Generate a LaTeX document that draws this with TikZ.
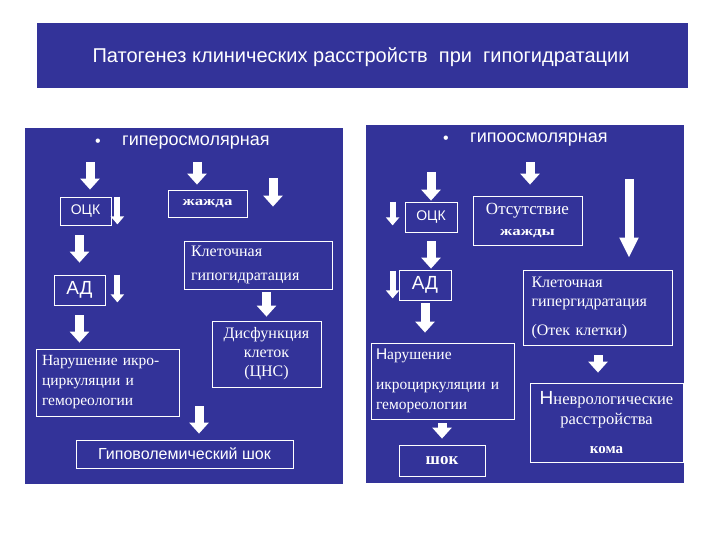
\documentclass[tikz,border=0pt]{standalone}
\usepackage{fontspec}
\setmainfont{Liberation Serif}
\setsansfont{Liberation Sans}
\usepackage{tikz}
\usetikzlibrary{arrows.meta}
\definecolor{slideblue}{RGB}{51,51,153}
\tikzset{
  panel/.style={
    fill=slideblue,
    draw=none,
    inner sep=0pt
  },
  slidebox/.style={
    draw=white,
    line width=0.8pt,
    text=white,
    inner sep=0pt,
    align=center
  },
  sansbox/.style={
    slidebox,
    font=\sffamily\fontsize{14}{17}\selectfont
  },
  serifbox/.style={
    slidebox,
    font=\rmfamily\fontsize{16}{20}\selectfont
  },
  heading/.style={
    text=white,
    inner sep=0pt,
    font=\sffamily\fontsize{18}{20}\selectfont
  },
  blockflow/.style={draw=white,line width=9pt,-{Triangle[length=11pt,width=19pt]}},
  sideflow/.style={draw=white,line width=6pt,-{Triangle[length=8pt,width=13pt]}}
}
\begin{document}
\begin{tikzpicture}[x=1pt,y=-1pt]
\useasboundingbox (0,0) rectangle (720,540);
\node[panel,minimum width=651pt,minimum height=65pt] (titlebar) at (362.5,55.5) {};
\node[heading,font=\sffamily\fontsize{20}{22}\selectfont] (title) at (361,57) {Патогенез клинических расстройств\ \ при\ \ гипогидратации};
\node[panel,minimum width=318pt,minimum height=356pt] (hyperpanel) at (184,306) {};
\node[panel,minimum width=318pt,minimum height=358pt] (hypopanel) at (525,304) {};
\node[heading,font=\sffamily\fontsize{16}{18}\selectfont] (hyperdot) at (98,143) {•};
\node[heading,anchor=west] (hyper) at (122,143) {гиперосмолярная};
\node[heading,font=\sffamily\fontsize{16}{18}\selectfont] (hypodot) at (446,140) {•};
\node[heading,anchor=west] (hypo) at (470,140) {гипоосмолярная};
\node[sansbox,minimum width=51pt,minimum height=28pt] (ock1) at (85.5,211) {ОЦК};
\node[serifbox,font=\rmfamily\bfseries\fontsize{13}{16}\selectfont,minimum width=79pt,minimum height=27pt] (thirst) at (207.5,203.5) {\scalebox{1.3}[1]{жажда}};
\node[sansbox,font=\sffamily\fontsize{19}{22}\selectfont,minimum width=51pt,minimum height=30pt] (ad1) at (79.5,290) {АД};
\node[serifbox,align=left,text width=134pt,inner xsep=7pt,minimum height=48pt,font=\rmfamily\fontsize{16}{24}\selectfont] (cellhypo) at (258,265) {Клеточная\\гипогидратация};
\node[serifbox,align=left,text width=131pt,inner xsep=6pt,minimum height=67pt,font=\rmfamily\fontsize{15.5}{20}\selectfont] (micro1) at (107.5,382.5) {Нарушение икро-\\циркуляции и\\гемореологии};
\node[serifbox,minimum width=109pt,minimum height=66pt,font=\rmfamily\fontsize{16}{19}\selectfont] (cns) at (266.5,354) {Дисфункция\\клеток\\(ЦНС)};
\node[sansbox,font=\sffamily\fontsize{16}{19}\selectfont,minimum width=217pt,minimum height=28pt] (shock1) at (184.5,454) {Гиповолемический шок};
\node[sansbox,minimum width=52pt,minimum height=30pt] (ock2) at (431,217) {ОЦК};
\node[serifbox,minimum width=109pt,minimum height=49pt,font=\rmfamily\fontsize{17}{21}\selectfont] (nothirst) at (527.5,220.5) {Отсутствие\\{\bfseries\fontsize{13}{21}\selectfont\scalebox{1.3}[1]{жажды}}};
\node[sansbox,font=\sffamily\fontsize{19}{22}\selectfont,minimum width=52pt,minimum height=30pt] (ad2) at (425,285) {АД};
\node[serifbox,align=left,text width=133pt,inner xsep=8pt,minimum height=75pt,font=\rmfamily\fontsize{16}{19}\selectfont] (cellhyper) at (598,307.5) {Клеточная\\гипергидратация\\[10pt](Отек клетки)};
\node[serifbox,align=left,text width=133pt,inner xsep=5pt,minimum height=76pt,font=\rmfamily\fontsize{15.5}{20}\selectfont] (micro2) at (442.5,381) {{\sffamily Н}арушение\\[10pt]икроциркуляции и\\гемореологии};
\node[serifbox,minimum width=153pt,minimum height=79pt,font=\rmfamily\fontsize{16.5}{20}\selectfont] (neuro) at (606.5,422.5) {{\sffamily\fontsize{19}{20}\selectfont Н}неврологические\\расстройства\\[9pt]{\bfseries\fontsize{15}{20}\selectfont кома}};
\node[serifbox,font=\rmfamily\bfseries\fontsize{17}{19}\selectfont,minimum width=86pt,minimum height=31pt] (shock2) at (442,460.5) {шок};
\coordinate (a1) at (90,162);
\coordinate (a2) at (197,162);
\coordinate (a3) at (273,178);
\coordinate (a7) at (199,406);
\coordinate (b1) at (431,172);
\coordinate (b2) at (530,162);
\coordinate (b3) at (629,179);
\draw[blockflow,shorten >=7pt] (a1) -- (a1 |- ock1.north);
\draw[blockflow,shorten >=5pt] (a2) -- (a2 |- thirst.north);
\draw[blockflow,shorten >=34pt] (a3) -- (a3 |- cellhypo.north);
\draw[sideflow,shorten >=1pt] ([xshift=6pt]ock1.north east) -- ([xshift=6pt]ock1.south east);
\draw[blockflow,shorten <=10pt,shorten >=12pt] (ad1.north |- ock1.south) -- (ad1.north);
\draw[sideflow,shorten >=3pt] ([xshift=12pt]ad1.north east) -- ([xshift=12pt]ad1.south east);
\draw[blockflow,shorten <=3pt,shorten >=4pt] (cns.north |- cellhypo.south) -- (cns.north);
\draw[blockflow,shorten <=10pt,shorten >=6pt] (ad1.south) -- (ad1.south |- micro1.north);
\draw[blockflow,shorten >=6pt] (a7) -- (a7 |- shock1.north);
\draw[blockflow,shorten >=1pt] (b1) -- (ock2.north);
\draw[sideflow,shorten >=7pt] ([xshift=-12pt]ock2.north west) -- ([xshift=-12pt]ock2.south west);
\draw[blockflow,shorten >=11pt] (b2) -- (b2 |- nothirst.north);
\draw[blockflow,-{Triangle[length=20pt,width=18pt]},shorten >=12pt] (b3) -- (b3 |- cellhyper.north);
\draw[blockflow,shorten <=9pt,shorten >=1pt] (ock2.south) -- (ock2.south |- ad2.north);
\draw[sideflow,shorten <=1pt,shorten >=2pt] ([xshift=-6pt]ad2.north west) -- ([xshift=-6pt]ad2.south west);
\draw[blockflow,shorten <=3pt,shorten >=10pt] (ad2.south) -- (ad2.south |- micro2.north);
\draw[blockflow,shorten <=10pt,shorten >=10pt] (cellhyper.south) -- (cellhyper.south |- neuro.north);
\draw[blockflow,shorten <=4pt,shorten >=6pt] (shock2.north |- micro2.south) -- (shock2.north);
\end{tikzpicture}
\end{document}
